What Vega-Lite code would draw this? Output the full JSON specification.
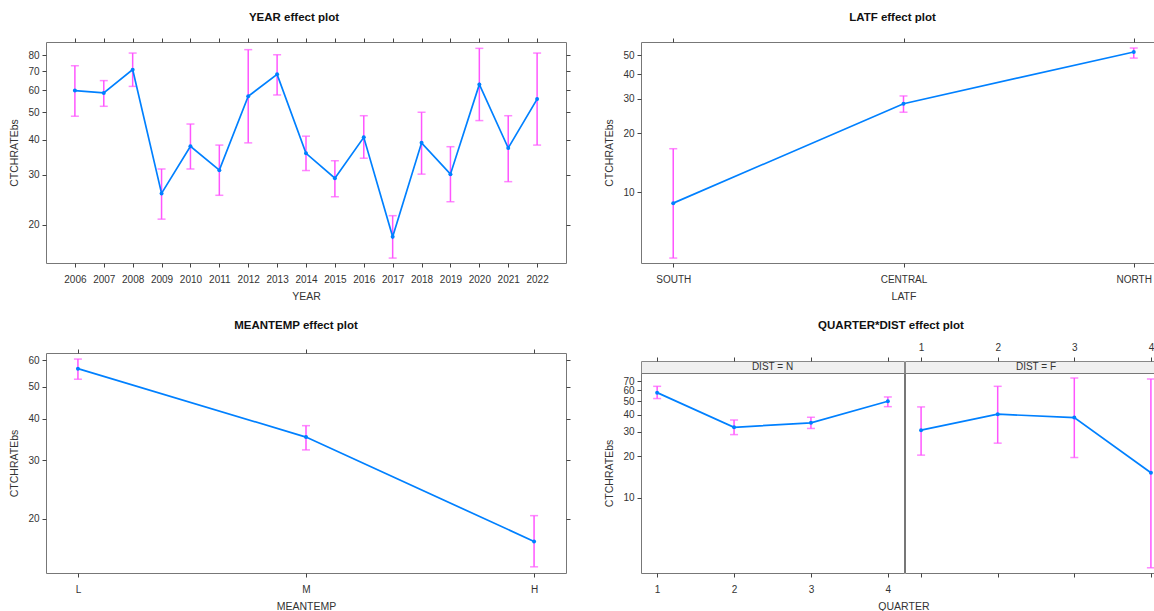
{
  "$schema": "https://vega.github.io/schema/vega-lite/v6.json",
  "background": "white",
  "padding": {"left": 9, "top": 11, "right": 0, "bottom": 0},
  "datasets": {
    "year": [
      {"YEAR": "2006", "fit": 59.8, "lower": 48.5, "upper": 73.3},
      {"YEAR": "2007", "fit": 58.7, "lower": 52.6, "upper": 64.9},
      {"YEAR": "2008", "fit": 71.0, "lower": 61.9, "upper": 81.3},
      {"YEAR": "2009", "fit": 25.8, "lower": 20.9, "upper": 31.5},
      {"YEAR": "2010", "fit": 37.9, "lower": 31.5, "upper": 45.5},
      {"YEAR": "2011", "fit": 31.2, "lower": 25.4, "upper": 38.3},
      {"YEAR": "2012", "fit": 57.1, "lower": 39.0, "upper": 83.6},
      {"YEAR": "2013", "fit": 68.3, "lower": 57.7, "upper": 80.2},
      {"YEAR": "2014", "fit": 35.8, "lower": 31.1, "upper": 41.2},
      {"YEAR": "2015", "fit": 29.2, "lower": 25.1, "upper": 33.7},
      {"YEAR": "2016", "fit": 40.8, "lower": 34.4, "upper": 48.7},
      {"YEAR": "2017", "fit": 18.1, "lower": 15.2, "upper": 21.5},
      {"YEAR": "2018", "fit": 39.0, "lower": 30.2, "upper": 50.1},
      {"YEAR": "2019", "fit": 30.2, "lower": 24.1, "upper": 37.8},
      {"YEAR": "2020", "fit": 62.9, "lower": 46.8, "upper": 84.5},
      {"YEAR": "2021", "fit": 37.4, "lower": 28.4, "upper": 48.7},
      {"YEAR": "2022", "fit": 55.8, "lower": 38.3, "upper": 81.3}
    ],
    "latf": [
      {"LATF": "SOUTH", "fit": 8.78, "lower": 4.60, "upper": 16.66},
      {"LATF": "CENTRAL", "fit": 28.3, "lower": 25.6, "upper": 31.0},
      {"LATF": "NORTH", "fit": 52.0, "lower": 48.4, "upper": 54.5}
    ],
    "meantemp": [
      {"MEANTEMP": "L", "fit": 56.6, "lower": 52.6, "upper": 60.5},
      {"MEANTEMP": "M", "fit": 35.2, "lower": 32.2, "upper": 38.1},
      {"MEANTEMP": "H", "fit": 17.06, "lower": 14.3, "upper": 20.4}
    ],
    "qd": [
      {"QUARTER": "1", "DIST": "N", "fit": 57.7, "lower": 52.3, "upper": 64.1},
      {"QUARTER": "2", "DIST": "N", "fit": 32.4, "lower": 28.7, "upper": 36.6},
      {"QUARTER": "3", "DIST": "N", "fit": 34.9, "lower": 31.8, "upper": 38.3},
      {"QUARTER": "4", "DIST": "N", "fit": 50.0, "lower": 45.7, "upper": 53.7},
      {"QUARTER": "1", "DIST": "F", "fit": 30.9, "lower": 20.4, "upper": 45.5},
      {"QUARTER": "2", "DIST": "F", "fit": 40.3, "lower": 24.9, "upper": 64.1},
      {"QUARTER": "3", "DIST": "F", "fit": 38.1, "lower": 19.6, "upper": 73.6},
      {"QUARTER": "4", "DIST": "F", "fit": 15.2, "lower": 3.13, "upper": 72.4}
    ]
  },
  "columns": 2,
  "spacing": {"row": 17, "column": 33},
  "concat": [
    {
      "width": 520, "height": 221,
      "title": {"text": "YEAR effect plot", "dx": -12},
      "data": {"name": "year"},
      "layer": [
        {"mark": {"type": "rule", "color": "#ff55ff", "strokeWidth": 1.5},
         "encoding": {
           "x": {"field": "YEAR", "type": "ordinal", "scale": {"type": "point", "padding": 1.12}, "axis": {"orient": "bottom", "title": "YEAR"}},
           "y": {"field": "lower", "type": "quantitative", "scale": {"type": "log", "domain": [14.6, 89], "nice": false}, "axis": {"orient": "left", "title": "CTCHRATEbs", "values": [20, 30, 40, 50, 60, 70, 80]}},
           "y2": {"field": "upper"}}},
        {"mark": {"type": "tick", "color": "#ff55ff", "thickness": 1.5, "size": 8},
         "encoding": {
           "x": {"field": "YEAR", "type": "ordinal", "axis": {"orient": "top", "labels": false, "title": null}},
           "y": {"field": "lower", "type": "quantitative", "axis": {"orient": "right", "labels": false, "title": null, "values": [20, 30, 40, 50, 60, 70, 80]}}}},
        {"mark": {"type": "tick", "color": "#ff55ff", "thickness": 1.5, "size": 8},
         "encoding": {
           "x": {"field": "YEAR", "type": "ordinal", "axis": null},
           "y": {"field": "upper", "type": "quantitative", "axis": null}}},
        {"mark": {"type": "line", "color": "#0080ff", "strokeWidth": 1.7},
         "encoding": {
           "x": {"field": "YEAR", "type": "ordinal", "axis": null},
           "y": {"field": "fit", "type": "quantitative", "axis": null},
           "order": {"value": null}}},
        {"mark": {"type": "circle", "color": "#0080ff", "size": 16, "opacity": 1},
         "encoding": {
           "x": {"field": "YEAR", "type": "ordinal", "axis": null},
           "y": {"field": "fit", "type": "quantitative", "axis": null}}}
      ],
      "resolve": {"axis": {"x": "independent", "y": "independent"}}
    },
    {
      "width": 525, "height": 221,
      "title": {"text": "LATF effect plot", "dx": -11},
      "data": {"name": "latf"},
      "layer": [
        {"mark": {"type": "rule", "color": "#ff55ff", "strokeWidth": 1.5},
         "encoding": {
           "x": {"field": "LATF", "type": "ordinal", "scale": {"type": "point", "padding": 0.14, "domain": ["SOUTH", "CENTRAL", "NORTH"]}, "axis": {"orient": "bottom", "title": "LATF"}},
           "y": {"field": "lower", "type": "quantitative", "scale": {"type": "log", "domain": [4.34, 58.5], "nice": false}, "axis": {"orient": "left", "title": "CTCHRATEbs", "values": [10, 20, 30, 40, 50]}},
           "y2": {"field": "upper"}}},
        {"mark": {"type": "tick", "color": "#ff55ff", "thickness": 1.5, "size": 8},
         "encoding": {
           "x": {"field": "LATF", "type": "ordinal", "axis": {"orient": "top", "labels": false, "title": null}},
           "y": {"field": "lower", "type": "quantitative", "axis": {"orient": "right", "labels": false, "title": null, "values": [10, 20, 30, 40, 50]}}}},
        {"mark": {"type": "tick", "color": "#ff55ff", "thickness": 1.5, "size": 8},
         "encoding": {
           "x": {"field": "LATF", "type": "ordinal", "axis": null},
           "y": {"field": "upper", "type": "quantitative", "axis": null}}},
        {"mark": {"type": "line", "color": "#0080ff", "strokeWidth": 1.7},
         "encoding": {
           "x": {"field": "LATF", "type": "ordinal", "axis": null},
           "y": {"field": "fit", "type": "quantitative", "axis": null},
           "order": {"value": null}}},
        {"mark": {"type": "circle", "color": "#0080ff", "size": 16, "opacity": 1},
         "encoding": {
           "x": {"field": "LATF", "type": "ordinal", "axis": null},
           "y": {"field": "fit", "type": "quantitative", "axis": null}}}
      ],
      "resolve": {"axis": {"x": "independent", "y": "independent"}}
    },
    {
      "width": 520, "height": 220,
      "title": {"text": "MEANTEMP effect plot", "dx": -10, "offset": 17},
      "data": {"name": "meantemp"},
      "layer": [
        {"mark": {"type": "rule", "color": "#ff55ff", "strokeWidth": 1.5},
         "encoding": {
           "x": {"field": "MEANTEMP", "type": "ordinal", "scale": {"type": "point", "padding": 0.14, "domain": ["L", "M", "H"]}, "axis": {"orient": "bottom", "title": "MEANTEMP"}},
           "y": {"field": "lower", "type": "quantitative", "scale": {"type": "log", "domain": [13.7, 63.1], "nice": false}, "axis": {"orient": "left", "title": "CTCHRATEbs", "values": [20, 30, 40, 50, 60]}},
           "y2": {"field": "upper"}}},
        {"mark": {"type": "tick", "color": "#ff55ff", "thickness": 1.5, "size": 8},
         "encoding": {
           "x": {"field": "MEANTEMP", "type": "ordinal", "axis": {"orient": "top", "labels": false, "title": null}},
           "y": {"field": "lower", "type": "quantitative", "axis": {"orient": "right", "labels": false, "title": null, "values": [20, 30, 40, 50, 60]}}}},
        {"mark": {"type": "tick", "color": "#ff55ff", "thickness": 1.5, "size": 8},
         "encoding": {
           "x": {"field": "MEANTEMP", "type": "ordinal", "axis": null},
           "y": {"field": "upper", "type": "quantitative", "axis": null}}},
        {"mark": {"type": "line", "color": "#0080ff", "strokeWidth": 1.7},
         "encoding": {
           "x": {"field": "MEANTEMP", "type": "ordinal", "axis": null},
           "y": {"field": "fit", "type": "quantitative", "axis": null},
           "order": {"value": null}}},
        {"mark": {"type": "circle", "color": "#0080ff", "size": 16, "opacity": 1},
         "encoding": {
           "x": {"field": "MEANTEMP", "type": "ordinal", "axis": null},
           "y": {"field": "fit", "type": "quantitative", "axis": null}}}
      ],
      "resolve": {"axis": {"x": "independent", "y": "independent"}}
    },
    {
      "title": {"text": "QUARTER*DIST effect plot", "anchor": "middle", "offset": 10, "dx": 5},
      "bounds": "flush",
      "spacing": 0,
      "vconcat": [
        {
          "width": 525, "height": 8,
          "view": {"stroke": null},
          "data": {"values": [{"lab": ""}]},
          "mark": {"type": "point", "opacity": 0},
          "encoding": {}
        },
        {
          "title": {"text": "QUARTER", "orient": "bottom", "anchor": "middle", "fontSize": 10.5, "fontWeight": "normal", "color": "#333", "offset": 7, "dx": 18},
          "spacing": -3,
          "hconcat": [
            {
              "bounds": "flush",
              "spacing": 0,
              "vconcat": [
                {
                  "width": 263, "height": 12,
                  "view": {"fill": "#f0f0f0", "stroke": "#888"},
                  "layer": [
                    {"data": {"name": "qd"},
                     "transform": [{"filter": "datum.DIST === 'N'"}],
                     "mark": {"type": "point", "opacity": 0},
                     "encoding": {"x": {"field": "QUARTER", "type": "ordinal", "scale": {"type": "point", "padding": 0.21}, "axis": {"orient": "top", "labels": false, "title": null}}}},
                    {"data": {"values": [{"lab": "DIST = N"}]},
                     "mark": {"type": "text", "fontSize": 10, "color": "#333"},
                     "encoding": {"text": {"field": "lab"}}}
                  ]
                },
                {
                  "width": 263, "height": 200,
                  "data": {"name": "qd"},
                  "transform": [{"filter": "datum.DIST === 'N'"}],
                  "layer": [
                    {"mark": {"type": "rule", "color": "#ff55ff", "strokeWidth": 1.5},
                     "encoding": {
                       "x": {"field": "QUARTER", "type": "ordinal", "scale": {"type": "point", "padding": 0.21}, "axis": {"orient": "bottom", "title": null}},
                       "y": {"field": "lower", "type": "quantitative", "scale": {"type": "log", "domain": [2.87, 80], "nice": false}, "axis": {"orient": "left", "title": "CTCHRATEbs", "values": [10, 20, 30, 40, 50, 60, 70]}},
                       "y2": {"field": "upper"}}},
                    {"mark": {"type": "tick", "color": "#ff55ff", "thickness": 1.5, "size": 8},
                     "encoding": {
                       "x": {"field": "QUARTER", "type": "ordinal", "axis": null},
                       "y": {"field": "lower", "type": "quantitative", "axis": null}}},
                    {"mark": {"type": "tick", "color": "#ff55ff", "thickness": 1.5, "size": 8},
                     "encoding": {
                       "x": {"field": "QUARTER", "type": "ordinal", "axis": null},
                       "y": {"field": "upper", "type": "quantitative", "axis": null}}},
                    {"mark": {"type": "line", "color": "#0080ff", "strokeWidth": 1.7},
                     "encoding": {
                       "x": {"field": "QUARTER", "type": "ordinal", "axis": null},
                       "y": {"field": "fit", "type": "quantitative", "axis": null},
                       "order": {"value": null}}},
                    {"mark": {"type": "circle", "color": "#0080ff", "size": 16, "opacity": 1},
                     "encoding": {
                       "x": {"field": "QUARTER", "type": "ordinal", "axis": null},
                       "y": {"field": "fit", "type": "quantitative", "axis": null}}}
                  ],
                  "resolve": {"axis": {"x": "independent", "y": "independent"}}
                }
              ]
            },
            {
              "bounds": "flush",
              "spacing": 0,
              "vconcat": [
                {
                  "width": 262, "height": 12,
                  "view": {"fill": "#f0f0f0", "stroke": "#888"},
                  "layer": [
                    {"data": {"name": "qd"},
                     "transform": [{"filter": "datum.DIST === 'F'"}],
                     "mark": {"type": "point", "opacity": 0},
                     "encoding": {"x": {"field": "QUARTER", "type": "ordinal", "scale": {"type": "point", "padding": 0.21}, "axis": {"orient": "top", "labels": true, "labelPadding": 5, "title": null}}}},
                    {"data": {"values": [{"lab": "DIST = F"}]},
                     "mark": {"type": "text", "fontSize": 10, "color": "#333"},
                     "encoding": {"text": {"field": "lab"}}}
                  ]
                },
                {
                  "width": 262, "height": 200,
                  "data": {"name": "qd"},
                  "transform": [{"filter": "datum.DIST === 'F'"}],
                  "layer": [
                    {"mark": {"type": "rule", "color": "#ff55ff", "strokeWidth": 1.5},
                     "encoding": {
                       "x": {"field": "QUARTER", "type": "ordinal", "scale": {"type": "point", "padding": 0.21}, "axis": {"orient": "bottom", "labels": false, "title": null}},
                       "y": {"field": "lower", "type": "quantitative", "scale": {"type": "log", "domain": [2.87, 80], "nice": false}, "axis": null},
                       "y2": {"field": "upper"}}},
                    {"mark": {"type": "tick", "color": "#ff55ff", "thickness": 1.5, "size": 8},
                     "encoding": {
                       "x": {"field": "QUARTER", "type": "ordinal", "axis": null},
                       "y": {"field": "lower", "type": "quantitative", "axis": null}}},
                    {"mark": {"type": "tick", "color": "#ff55ff", "thickness": 1.5, "size": 8},
                     "encoding": {
                       "x": {"field": "QUARTER", "type": "ordinal", "axis": null},
                       "y": {"field": "upper", "type": "quantitative", "axis": null}}},
                    {"mark": {"type": "line", "color": "#0080ff", "strokeWidth": 1.7},
                     "encoding": {
                       "x": {"field": "QUARTER", "type": "ordinal", "axis": null},
                       "y": {"field": "fit", "type": "quantitative", "axis": null},
                       "order": {"value": null}}},
                    {"mark": {"type": "circle", "color": "#0080ff", "size": 16, "opacity": 1},
                     "encoding": {
                       "x": {"field": "QUARTER", "type": "ordinal", "axis": null},
                       "y": {"field": "fit", "type": "quantitative", "axis": null}}}
                  ],
                  "resolve": {"axis": {"x": "independent", "y": "independent"}}
                }
              ]
            }
          ]
        }
      ]
    }
  ],
  "config": {
    "font": "Liberation Sans",
    "view": {"stroke": "#777", "strokeWidth": 1},
    "axis": {"domain": false, "grid": false, "tickColor": "#444", "tickSize": 4, "labelFontSize": 10, "labelColor": "#333", "titleFontSize": 10.5, "titleFontWeight": "normal", "titleColor": "#333", "labelOverlap": false, "labelFlush": false},
    "axisX": {"labelAngle": 0, "labelPadding": 7, "titlePadding": 7},
    "axisY": {"labelPadding": 3, "titlePadding": 8},
    "title": {"fontSize": 11.5, "fontWeight": "bold", "color": "#111", "offset": 14}
  }
}
